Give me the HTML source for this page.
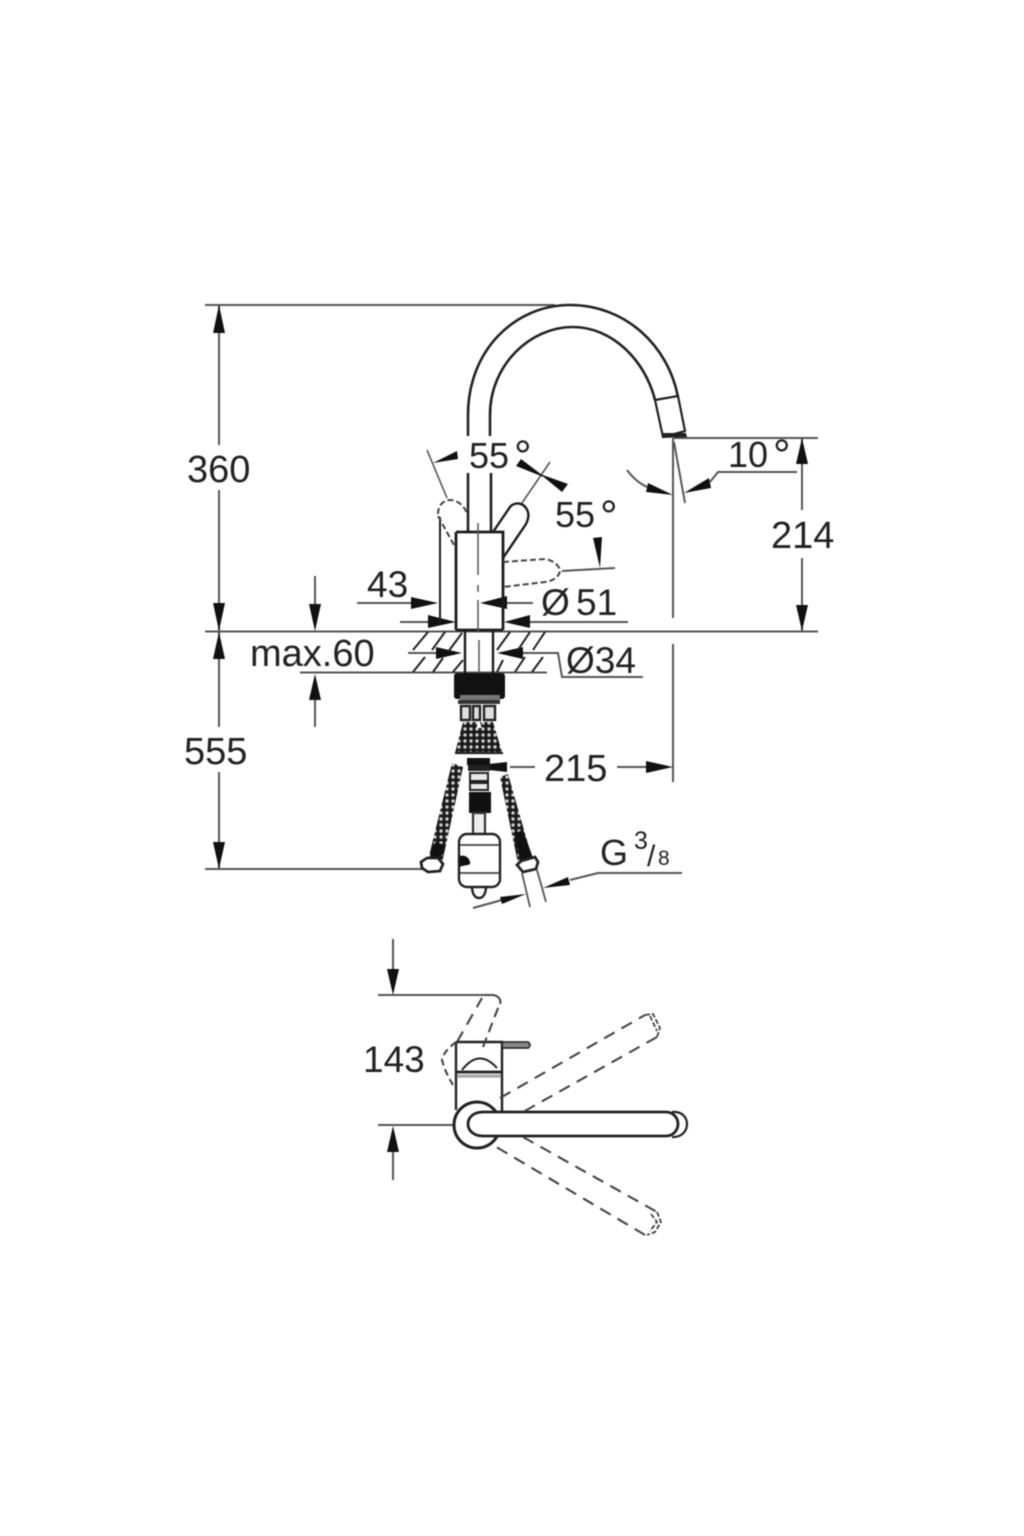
<!DOCTYPE html>
<html><head><meta charset="utf-8"><style>
html,body{margin:0;padding:0;background:#fff}
svg{display:block;filter:blur(.45px)}
text{font-family:"Liberation Sans",sans-serif;font-size:38px;fill:#222}
</style></head><body>
<svg width="1024" height="1536" viewBox="0 0 1024 1536" xmlns="http://www.w3.org/2000/svg">
<rect width="1024" height="1536" fill="#fff"/>
<defs>
<pattern id="hose" width="6" height="6" patternUnits="userSpaceOnUse"><rect width="6" height="6" fill="#1a1a1a"/><circle cx="3" cy="3" r="1.7" fill="#ccc"/></pattern>
</defs>
<!-- dimension lines -->
<g fill="none" stroke="#555" stroke-width="2">
<path d="M205 305H555M205 631.5H818M219 305V445M219 490V631M219 632V727M219 772V869M205 869H425"/>
<path d="M674 438H818M802 438V510M802 558V631"/>
<path d="M673 438V618M673 644V782"/>
<path d="M674 442L685 503"/>
<path d="M627 470Q636 482 647 487M710 482L718 472H797"/>
<path d="M357 603H414M400 622H430M530 622H628M505 603H533"/>
<path d="M315 576V610M315 700V727M300 672.5H547M408 653H438M522 653H558L562 677H643"/>
<path d="M617 767H650M510 767H535"/>
<path d="M473 908L502 900M570 880L598 873H682"/>
<path d="M393 939V970M378 995H485M378 1125H455M393 1150V1180"/>
<path d="M427 450L447 498" stroke-width="1.6"/>
<path d="M522 503L550 462" stroke-width="1.6"/>
<path d="M562 571L615 568"/>
<path d="M522 873L530 907M537 870L546 902" stroke-width="1.8"/>
</g>
<!-- arrowheads -->
<g fill="#111">
<path d="M219 305l-6 28h12zM219 631l-6 -28h12zM219 632l-6 27h12zM219 869l-6 -27h12z"/>
<path d="M802 438l-6 26h12zM802 631l-6 -26h12z"/>
<path d="M673 495L648 483L646 492Z"/>
<path d="M684 493L709 478L711 488Z"/>
<path d="M433 463L457 451L458 459Z"/>
<path d="M516 466L521 459L546 478ZM568 484L562 492L540 474Z"/>
<path d="M438 603l-27 -6v12zM480 603l27 -7v13zM456 622l-28 -7v13zM504 622l26 -7v13z"/>
<path d="M462 653l-26 -6v12zM497 653l26 -6v12z"/>
<path d="M315 631l-6 -27h12zM315 674l-6 26h12z"/>
<path d="M600 568L593 538L602 537Z"/>
<path d="M507 762L507 772L470 768V766ZM673 767l-27 -6v12z"/>
<path d="M526 894L500 897L502 904ZM543 888L568 877L570 885Z"/>
<path d="M393 995l-6 -26h12zM393 1126l-6 26h12z"/>
</g>
<!-- spout -->
<g fill="none" stroke="#222" stroke-width="2.6">
<path d="M468 436V415C468 350 515 305 570 305C625 305 668 345 678 397"/>
<path d="M490 436V415C490 365 530 327 573 327C612 327 645 360 655 400"/>
<path d="M468 473V532M491 473V532"/>
<path d="M655 400L678 396L685 431L663 437Z" stroke-width="2.2"/>
</g>
<path d="M663 438l-1 -5h24l1 4z" fill="#222"/>
<!-- lever & body -->
<g fill="none" stroke="#1c1c1c" stroke-width="2.4">
<path d="M493 532L510 507C514 502 524 501 528 512C529 516 528 520 526 524L503 558"/>
<path d="M456 532H503V630M456 532V630M456 630H503" stroke-width="2.8"/>
<path d="M465 631V673M493 631V673"/>
<path d="M440 517V622" stroke-width="2"/>
</g>
<path d="M478 523V575M478 585V592M478 600V632M479 640V672" fill="none" stroke="#555" stroke-width="1.5"/>
<g fill="none" stroke="#444" stroke-width="2" stroke-dasharray="6 3">
<path d="M438 514C438 505 444 500 450 500C458 500 466 507 467 515"/>
<path d="M438 516L454 545"/>
<path d="M503 562L545 559C553 560 560 566 560 571C559 577 553 581 545 582L503 587"/>
</g>
<!-- hatching -->
<g fill="none" stroke="#222" stroke-width="2">
<path d="M413 650L428 632M432 650L445 632M448 652L462 633M413 672L425 657M433 672L443 658M453 672L463 660"/>
<path d="M497 650L510 632M518 650L530 632M533 650L545 632M497 672L503 660M515 672L525 657M532 672L543 657"/>
</g>
<!-- nut & lower parts -->
<rect x="454" y="673" width="51" height="26" rx="3" fill="#121212"/>
<rect x="460" y="695" width="40" height="5" fill="#777"/>
<rect x="458" y="700" width="42" height="4" fill="#333"/>
<g fill="#ddd" stroke="#222" stroke-width="2.4">
<rect x="461" y="706" width="9" height="14"/><rect x="473" y="706" width="7" height="14"/><rect x="484" y="706" width="11" height="14"/>
</g>
<path d="M463 722L455 753H470L478 722ZM493 722L502 752H488L480 722Z" fill="url(#hose)"/>
<rect x="471" y="728" width="17" height="26" fill="url(#hose)"/>
<path d="M455 753H503" stroke="#222" stroke-width="2.2"/>
<path d="M452 763L463 767L442 863L428 860Z" fill="url(#hose)"/>
<path d="M435 842L445 845L440 862L429 859Z" fill="#111"/>
<path d="M500 777L508 774L532 858L518 863Z" fill="url(#hose)"/>
<path d="M515 833L523 830L533 858L520 863Z" fill="#111"/>
<g fill="#fff" stroke="#222" stroke-width="2.8">
<path d="M421 862L427 858H438L443 864L440 871L428 872L422 868Z"/>
<path d="M517 865L521 861L535 857L538 862L536 869L523 872Z"/>
</g>
<!-- central stem -->
<rect x="467" y="758" width="23" height="7" fill="#111"/>
<rect x="468" y="765" width="22" height="6" fill="#222"/>
<rect x="470" y="773" width="18" height="8" fill="#e8e8e8" stroke="#222" stroke-width="2"/>
<rect x="470" y="783" width="18" height="7" fill="#e8e8e8" stroke="#222" stroke-width="2"/>
<rect x="469" y="792" width="22" height="21" fill="#111"/>
<rect x="473" y="813" width="12" height="21" fill="#eee" stroke="#333" stroke-width="2.2"/>
<g fill="#fff" stroke="#222" stroke-width="2.4">
<path d="M472 886C472 894 475 898 479 898C483 898 486 894 486 886Z"/>
<rect x="459" y="834" width="41" height="53" rx="8"/>
</g>
<path d="M460 845H499M460 873H499" stroke="#444" stroke-width="1.8"/>
<path d="M460 856C468 854 471 862 470 864C468 866 462 865 460 867Z" fill="#111"/>
<!-- top view -->
<g fill="none" stroke="#222" stroke-width="2.4">
<path d="M456 1042V1110M502 1042V1112M456 1042H503"/>
<path d="M462 1070Q479 1048 497 1068" stroke-width="2"/>
<path d="M457 1072H501" stroke-width="2.8"/>
<path d="M457 1076H501" stroke="#aaa" stroke-width="3.5"/>
<path d="M503 1042H528Q532 1045 528 1048H503" fill="#888" stroke="#333" stroke-width="1.8"/>
<circle cx="477" cy="1125" r="23" stroke-width="3" fill="#fff"/>
<path d="M672 1112C692 1110 692 1138 672 1137" stroke-width="2.2"/>
<path d="M500 1112H666A12 12 0 0 1 666 1136H483C463 1136 463 1112 483 1112H500" fill="#fff" stroke-width="2.8"/>
</g>
<g fill="none" stroke="#444" stroke-width="2.1" stroke-dasharray="12 8">
<path d="M500 1098L645 1015M657 1037L523 1112"/>
<path d="M523 1137L657 1212M645 1235L493 1145"/>
<path d="M457 1042L482 998"/>
<path d="M483 1047L500 1003" stroke-dasharray="10 6"/>
<path d="M485 995H493C500 996 501 1001 500 1004" stroke-dasharray="none"/>
<path d="M456 1042Q443 1052 442 1060Q445 1072 453 1085" stroke-dasharray="7 4"/>
</g>
<g fill="none" stroke="#444" stroke-width="1.8" stroke-dasharray="5 2">
<path d="M645 1015L653 1014L660 1028L657 1037M650 1016L657 1031"/>
<path d="M657 1212L661 1222L655 1232L647 1235M651 1214L657 1222L650 1231"/>
</g>
<!-- text -->
<text x="187" y="482">360</text>
<text x="184" y="764">555</text>
<text x="469" y="468" style="font-size:36px">55</text>
<text x="514" y="471" style="font-size:44px">°</text>
<text x="555" y="527" style="font-size:36px">55</text>
<text x="600" y="531" style="font-size:44px">°</text>
<text x="728" y="467" style="font-size:36px">10</text>
<text x="773" y="470" style="font-size:44px">°</text>
<text x="771" y="548">214</text>
<text x="367" y="597" style="font-size:37px">43</text>
<text x="541" y="615" style="font-size:37px">Ø</text>
<text x="576" y="615" style="font-size:37px">51</text>
<text x="250" y="666" style="font-size:38px">max.60</text>
<text x="566" y="673" style="font-size:37px">Ø34</text>
<text x="544" y="781">215</text>
<text x="600" y="865" style="font-size:36px">G</text>
<text x="634" y="849" style="font-size:25px">3</text>
<text x="647" y="866" style="font-size:30px">/</text>
<text x="658" y="865" style="font-size:21px">8</text>
<text x="363" y="1072" style="font-size:37px">143</text>
</svg>
</body></html>
